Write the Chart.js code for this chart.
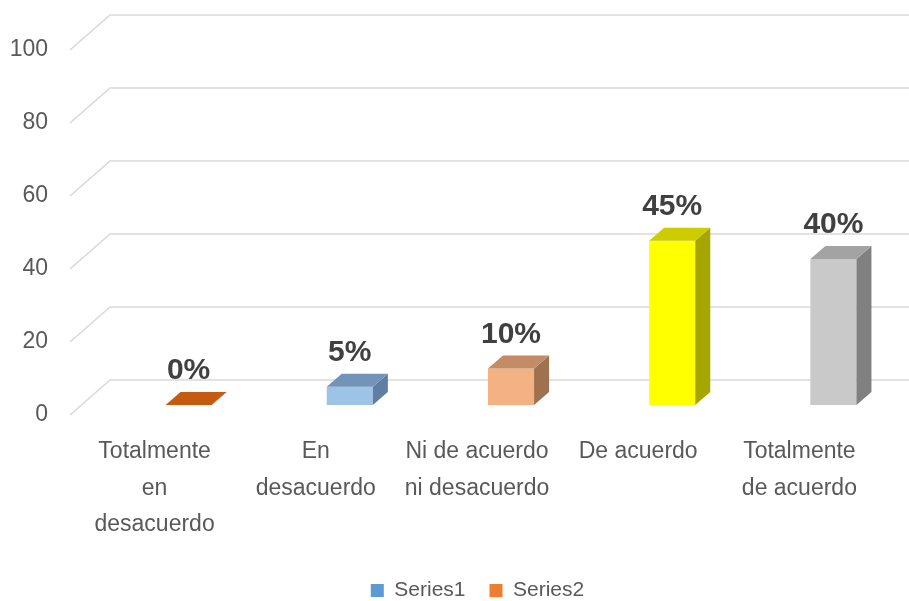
<!DOCTYPE html>
<html>
<head>
<meta charset="utf-8">
<script src="https://cdn.jsdelivr.net/npm/chart.js@4"></script>
<style>
  html, body { margin: 0; padding: 0; background: #fff; }
  #wrap { width: 909px; height: 601px; }
</style>
</head>
<body>
<div id="wrap"><canvas id="c"></canvas></div>
<script>
const categories = [
    ['Totalmente', 'en', 'desacuerdo'],
    ['En', 'desacuerdo'],
    ['Ni de acuerdo', 'ni desacuerdo'],
    ['De acuerdo'],
    ['Totalmente', 'de acuerdo']
];
const series1 = [0, 5, 10, 45, 40];
const series2 = [null, null, null, null, null];
const valueLabels = ['0%', '5%', '10%', '45%', '40%'];

const frontColors = ['#C55A11', '#9DC3E6', '#F4B183', '#FFFF00', '#C9C9C9'];
const topColors = ['#C55A11', '#7393B8', '#C48C66', '#CCCC00', '#A3A3A3'];
const sideColors = ['#A24A0E', '#5F7EA2', '#A0714F', '#A6A600', '#808080'];
const legendColors = ['#5B9BD5', '#ED7D31'];

const FONT = "'Liberation Sans', Arial, sans-serif";
const SHIFT = { x: 34, y: -10 };   // bars sit part way back in the 3D box
const DEPTH = { x: 15, y: -13 };   // bar depth
const WALL = { x: 40, y: -35 };    // back wall offset for gridlines

const box3d = {
    id: 'box3d',
    afterLayout(chart) {
        // nudge the legend like Excel places it
        const lg = chart.legend;
        lg.left += 46;
        lg.top += 10;
        lg.bottom += 10;
    },
    beforeDatasetsDraw(chart) {
        const ctx = chart.ctx;
        const y = chart.scales.y;
        const area = chart.chartArea;
        ctx.save();
        ctx.strokeStyle = '#D9D9D9';
        ctx.lineWidth = 1.6;
        y.ticks.forEach(t => {
            const py = y.getPixelForValue(t.value);
            const x0 = area.left - 4;
            ctx.beginPath();
            ctx.moveTo(x0, py);
            ctx.lineTo(x0 + WALL.x, py + WALL.y);
            ctx.lineTo(chart.width, py + WALL.y);
            ctx.stroke();
        });
        ctx.restore();
        ctx.save();
        ctx.translate(SHIFT.x, SHIFT.y);
    },
    afterDatasetsDraw(chart) {
        const ctx = chart.ctx;
        const meta = chart.getDatasetMeta(0);
        meta.data.forEach((bar, i) => {
            const l = bar.x - bar.width / 2, r = bar.x + bar.width / 2;
            const top = bar.y, base = bar.base;
            // side face
            ctx.fillStyle = sideColors[i];
            ctx.beginPath();
            ctx.moveTo(r, top);
            ctx.lineTo(r + DEPTH.x, top + DEPTH.y);
            ctx.lineTo(r + DEPTH.x, base + DEPTH.y);
            ctx.lineTo(r, base);
            ctx.closePath();
            ctx.fill();
            // top face
            ctx.fillStyle = topColors[i];
            ctx.beginPath();
            ctx.moveTo(l, top);
            ctx.lineTo(l + DEPTH.x, top + DEPTH.y);
            ctx.lineTo(r + DEPTH.x, top + DEPTH.y);
            ctx.lineTo(r, top);
            ctx.closePath();
            ctx.fill();
            // value label
            ctx.fillStyle = '#404040';
            ctx.font = 'bold 30px ' + FONT;
            ctx.textAlign = 'center';
            ctx.textBaseline = 'alphabetic';
            ctx.fillText(valueLabels[i], bar.x, top + DEPTH.y - 13);
        });
        ctx.restore();
    }
};

new Chart(document.getElementById('c'), {
    type: 'bar',
    data: {
        labels: categories,
        datasets: [
            { label: 'Series1', data: series1, backgroundColor: frontColors, grouped: false },
            { label: 'Series2', data: series2, backgroundColor: legendColors[1], grouped: false }
        ]
    },
    options: {
        responsive: true,
        maintainAspectRatio: false,
        animation: false,
        barPercentage: 0.286,
        categoryPercentage: 1,
        layout: { padding: { top: 50, right: 0, bottom: 0, left: 0 } },
        plugins: {
            legend: {
                position: 'bottom',
                labels: {
                    boxWidth: 13,
                    boxHeight: 13,
                    padding: 24,
                    color: '#595959',
                    font: { family: FONT, size: 21 },
                    generateLabels: chart => chart.data.datasets.map((ds, i) => ({
                        text: ds.label,
                        fillStyle: legendColors[i],
                        strokeStyle: legendColors[i],
                        lineWidth: 0,
                        hidden: false,
                        datasetIndex: i,
                        fontColor: '#595959'
                    }))
                }
            },
            tooltip: { enabled: false }
        },
        scales: {
            x: {
                grid: { display: false, drawTicks: false },
                border: { display: false },
                ticks: {
                    color: '#595959',
                    padding: 18,
                    maxRotation: 0,
                    autoSkip: false,
                    font: { family: FONT, size: 23, lineHeight: 1.6 }
                },
                afterFit: s => { s.height = 131; }
            },
            y: {
                min: 0,
                max: 100,
                grid: { display: false },
                border: { display: false },
                ticks: {
                    stepSize: 20,
                    color: '#595959',
                    padding: 18,
                    font: { family: FONT, size: 23 }
                },
                afterFit: s => { s.width = 74; }
            },
            yRight: {
                position: 'right',
                display: true,
                grid: { display: false, drawTicks: false },
                border: { display: false },
                ticks: { display: false },
                afterFit: s => { s.width = 29; }
            }
        }
    },
    plugins: [box3d]
});
</script>
</body>
</html>
